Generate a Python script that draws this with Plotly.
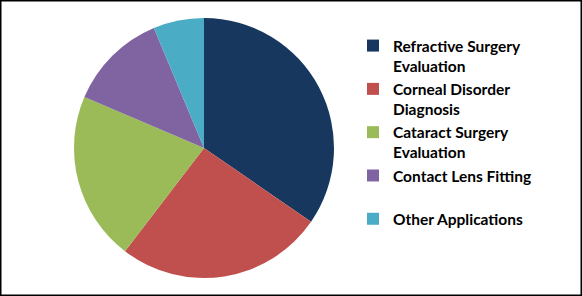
import plotly.graph_objects as go

labels = ["Refractive Surgery<br>Evaluation", "Corneal Disorder<br>Diagnosis",
          "Cataract Surgery<br>Evaluation", "Contact Lens Fitting<br> ", "Other Applications"]
values = [34.6, 25.8, 21.0, 12.3, 6.3]
colors = ["#17375E", "#C0504D", "#9BBB59", "#8064A2", "#4BACC6"]

W, H = 582, 296
fig = go.Figure(go.Pie(
    labels=labels, values=values, sort=False, direction="clockwise", rotation=0,
    marker=dict(colors=colors, line=dict(width=0)),
    textinfo="none", hoverinfo="label+value",
    domain=dict(x=[74 / W, 334 / W], y=[1 - 278 / H, 1 - 18 / H]),
))
fig.update_layout(
    width=W, height=H, margin=dict(l=0, r=0, t=0, b=0),
    paper_bgcolor="white", plot_bgcolor="white",
    legend=dict(x=353 / W, y=1 - 29 / H, xanchor="left", yanchor="top",
                valign="top", font=dict(family="Lato", size=15.5, color="black", weight="bold"),
                tracegroupgap=0, itemclick=False),
    shapes=[dict(type="rect", xref="paper", yref="paper", x0=0, x1=1, y0=0, y1=1,
                 line=dict(color="black", width=3))],
)
fig.write_html("out.html")
